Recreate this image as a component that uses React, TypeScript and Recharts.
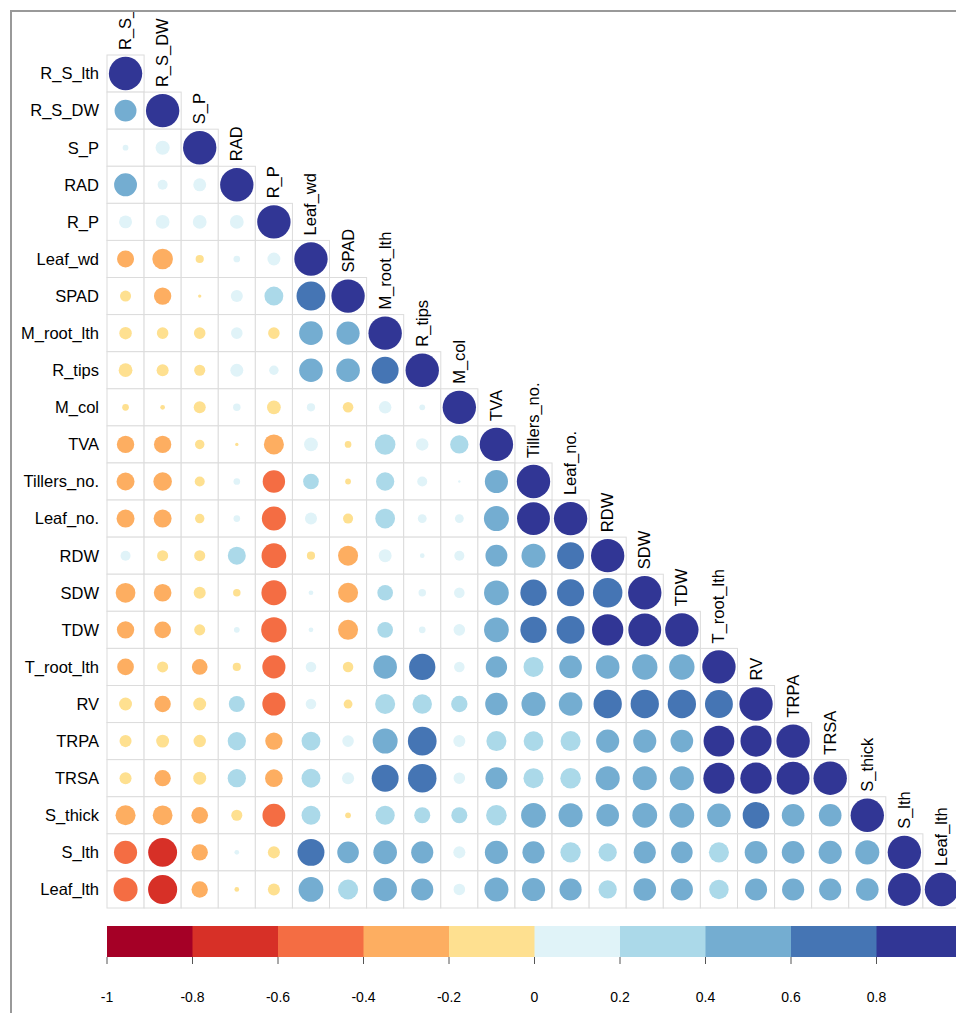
import React from 'react'
import { ScatterChart, Scatter, XAxis, YAxis, ZAxis, Cell, BarChart, Bar } from 'recharts'

// variable order (rows top->bottom, columns left->right)
const variables = [
  'R_S_lth', 'R_S_DW', 'S_P', 'RAD', 'R_P', 'Leaf_wd', 'SPAD', 'M_root_lth', 'R_tips', 'M_col',
  'TVA', 'Tillers_no.', 'Leaf_no.', 'RDW', 'SDW', 'TDW', 'T_root_lth', 'RV', 'TRPA', 'TRSA',
  'S_thick', 'S_lth', 'Leaf_lth',
]

// lower triangle, one array per row (correlations with the earlier columns)
const rowR_S_DW = [0.43]
const rowS_P = [0.03, 0.18]
const rowRAD = [0.47, 0.09, 0.15]
const rowR_P = [0.15, 0.17, 0.17, 0.17]
const rowLeaf_wd = [-0.26, -0.38, -0.06, 0.04, 0.15]
const rowSPAD = [-0.11, -0.27, -0.01, 0.13, 0.32, 0.75]
const rowM_root_lth = [-0.14, -0.12, -0.12, 0.12, -0.12, 0.5, 0.48]
const rowR_tips = [-0.17, -0.13, -0.11, 0.15, 0.08, 0.5, 0.5, 0.65]
const rowM_col = [-0.04, -0.02, -0.13, 0.05, -0.17, 0.06, -0.1, 0.14, 0.03]
const rowTVA = [-0.27, -0.27, -0.08, -0.01, -0.36, 0.17, -0.04, 0.38, 0.14, 0.3]
const rowTillers = [-0.29, -0.31, -0.09, 0.04, -0.45, 0.22, -0.03, 0.3, 0.09, 0.005, 0.48]
const rowLeaf_no = [-0.29, -0.29, -0.08, 0.04, -0.52, 0.13, -0.09, 0.35, 0.07, 0.07, 0.56, 0.97]
const rowRDW = [0.09, -0.11, -0.11, 0.29, -0.55, -0.06, -0.36, 0.15, 0.02, 0.09, 0.43, 0.52, 0.65]
const rowSDW = [-0.35, -0.28, -0.13, -0.05, -0.56, 0.02, -0.36, 0.22, 0.05, 0.1, 0.55, 0.62, 0.66, 0.78]
const rowTDW = [-0.27, -0.25, -0.11, 0.03, -0.58, 0.02, -0.36, 0.22, 0.04, 0.12, 0.55, 0.62, 0.7, 0.88, 0.97]
const rowT_root_lth = [-0.25, -0.11, -0.22, -0.06, -0.48, 0.1, -0.1, 0.5, 0.62, 0.1, 0.41, 0.36, 0.46, 0.5, 0.58, 0.58]
const rowRV = [-0.15, -0.24, -0.15, 0.23, -0.48, 0.1, -0.07, 0.36, 0.34, 0.24, 0.45, 0.52, 0.5, 0.72, 0.72, 0.72, 0.7]
const rowTRPA = [-0.13, -0.15, -0.14, 0.3, -0.27, 0.32, 0.12, 0.56, 0.74, 0.13, 0.36, 0.35, 0.36, 0.48, 0.48, 0.46, 0.85, 0.87]
const rowTRSA = [-0.13, -0.24, -0.15, 0.3, -0.28, 0.32, 0.13, 0.65, 0.73, 0.12, 0.43, 0.36, 0.38, 0.52, 0.52, 0.52, 0.87, 0.88, 0.97]
const rowS_thick = [-0.36, -0.35, -0.25, -0.11, -0.47, 0.32, -0.03, 0.33, 0.23, 0.23, 0.38, 0.55, 0.52, 0.46, 0.55, 0.55, 0.5, 0.64, 0.46, 0.46]
const rowS_lth = [-0.48, -0.75, -0.24, 0.02, -0.13, 0.65, 0.42, 0.5, 0.44, 0.13, 0.48, 0.44, 0.37, 0.3, 0.44, 0.42, 0.36, 0.46, 0.46, 0.48, 0.52]
const rowLeaf_lth = [-0.52, -0.76, -0.24, -0.02, -0.13, 0.55, 0.36, 0.5, 0.44, 0.12, 0.52, 0.48, 0.44, 0.3, 0.46, 0.44, 0.34, 0.44, 0.44, 0.44, 0.46, 0.97]

const lowerRows = [
  [], rowR_S_DW, rowS_P, rowRAD, rowR_P, rowLeaf_wd, rowSPAD, rowM_root_lth, rowR_tips, rowM_col,
  rowTVA, rowTillers, rowLeaf_no, rowRDW, rowSDW, rowTDW, rowT_root_lth, rowRV, rowTRPA, rowTRSA,
  rowS_thick, rowS_lth, rowLeaf_lth,
]

// RdYlBu, 10 classes, from -1 to 1
const palette = ['#A50026', '#D73027', '#F46D43', '#FDAE61', '#FEE090', '#E0F3F8', '#ABD9E9', '#74ADD1', '#4575B4', '#313695']
const legendBreaks = [-1, -0.8, -0.6, -0.4, -0.2, 0, 0.2, 0.4, 0.6, 0.8, 1]
const legendLabels = [-1, -0.8, -0.6, -0.4, -0.2, 0, 0.2, 0.4, 0.6, 0.8]

const FONT = '"Liberation Sans", Arial, sans-serif'
const PLOT_LEFT = 107
const PLOT_TOP = 55
const PLOT_SIZE = 853
const CELL = PLOT_SIZE / variables.length
const MAX_AREA = Math.PI * Math.pow(0.45 * CELL, 2)

const colorFor = (r: number) => palette[Math.min(9, Math.max(0, Math.floor((r + 1) / 0.2)))]

const points = lowerRows.flatMap((vals, row) =>
  [...vals, 1].map((r, col) => ({ row, col, r, abs: Math.abs(r), fill: colorFor(r) }))
)
const indexTicks = variables.map((_, i) => i)

// one full-height block per colour class
const legendBins = palette.map((color, i) => ({
  bin: `${legendBreaks[i]}..${legendBreaks[i + 1]}`,
  mid: (legendBreaks[i] + legendBreaks[i + 1]) / 2,
  level: 1,
  color,
}))

const GridSquare = (props: any) => (
  <rect x={props.cx - CELL / 2} y={props.cy - CELL / 2} width={CELL} height={CELL} fill="#fff" stroke="#dcdcdc" strokeWidth={1} />
)

// column labels sit on top of the diagonal cell of each column
const ColumnTick = (props: any) => {
  const v = props.payload.value
  const x = props.x + 5.5
  const y = PLOT_TOP + v * CELL - 5
  return (
    <text x={x} y={y} transform={`rotate(-90 ${x} ${y})`} textAnchor="start" fontSize={16.5} fontFamily={FONT} fill="#000">
      {variables[v]}
    </text>
  )
}

const LegendTick = (props: any) => (
  <text x={props.x} y={props.y + 31} textAnchor="middle" dominantBaseline="central" fontSize={14} fontFamily={'"Liberation Sans Narrow", "Liberation Sans", Arial, sans-serif'} fill="#000">
    {props.payload.value}
  </text>
)

export default function App() {
  return (
    <div style={{ position: 'absolute', left: 0, top: 0, width: 956, height: 1013, overflow: 'hidden', background: '#fff' }}>
      <div style={{ position: 'absolute', left: 10, top: 10, width: 1000, height: 1100, border: '2px solid #999', overflow: 'hidden' }}>
        <div style={{ position: 'absolute', left: -12, top: -12 }}>
          <div style={{ position: 'absolute', left: 0, top: 0 }}>
            <ScatterChart width={PLOT_LEFT + PLOT_SIZE} height={PLOT_TOP + PLOT_SIZE + 4} margin={{ top: 0, right: 0, bottom: 4, left: 0 }}>
              <XAxis
                type="number"
                dataKey="col"
                orientation="top"
                height={PLOT_TOP}
                domain={[-0.5, 22.5]}
                ticks={indexTicks}
                interval={0}
                axisLine={false}
                tickLine={false}
                tick={<ColumnTick />}
              />
              <YAxis
                type="number"
                dataKey="row"
                reversed
                width={PLOT_LEFT}
                domain={[-0.5, 22.5]}
                ticks={indexTicks}
                interval={0}
                axisLine={false}
                tickLine={false}
                tickMargin={2}
                tick={{ fill: '#000', fontSize: 16.5, fontFamily: FONT }}
                tickFormatter={(v: number) => variables[v]}
              />
              <ZAxis type="number" dataKey="abs" domain={[0, 1]} range={[0, MAX_AREA]} />
              <Scatter data={points} shape={GridSquare} isAnimationActive={false} />
              <Scatter data={points} isAnimationActive={false}>
                {points.map((p, i) => (
                  <Cell key={i} fill={p.fill} />
                ))}
              </Scatter>
            </ScatterChart>
          </div>
          <div style={{ position: 'absolute', left: 0, top: 900 }}>
            <BarChart width={962} height={113} data={legendBins} barCategoryGap={0} margin={{ top: 26, right: 0, bottom: 0, left: PLOT_LEFT }}>
              <XAxis
                xAxisId="scale"
                type="number"
                dataKey="mid"
                domain={[-1, 1]}
                ticks={legendLabels}
                interval={0}
                height={56}
                axisLine={false}
                tickSize={7}
                tickMargin={2}
                tickLine={{ stroke: '#555' }}
                tick={<LegendTick />}
              />
              <XAxis xAxisId="bins" dataKey="bin" type="category" hide height={0} />
              <YAxis hide domain={[0, 1]} />
              <Bar xAxisId="bins" dataKey="level" isAnimationActive={false} stroke="none">
                {legendBins.map((b, i) => (
                  <Cell key={i} fill={b.color} />
                ))}
              </Bar>
            </BarChart>
          </div>
        </div>
      </div>
    </div>
  )
}
